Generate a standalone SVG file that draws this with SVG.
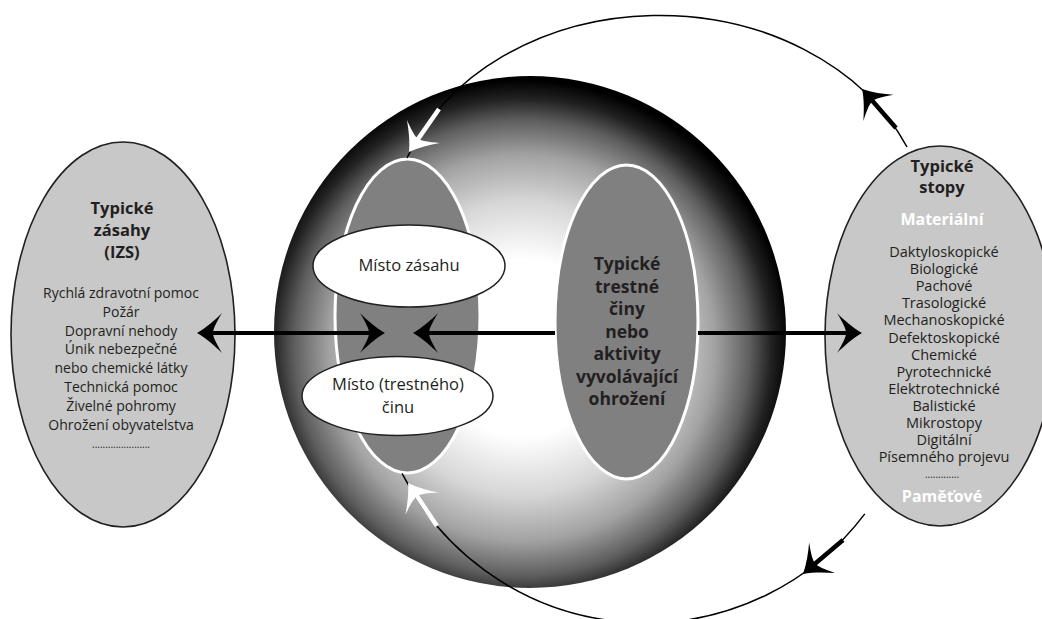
<svg xmlns="http://www.w3.org/2000/svg" width="1042" height="619" viewBox="0 0 1042 619">
<defs>
<radialGradient id="sph" gradientUnits="userSpaceOnUse" cx="522" cy="348" r="268">
<stop offset="0" stop-color="#ffffff"/>
<stop offset="0.33" stop-color="#ffffff"/>
<stop offset="0.55" stop-color="#d6d6d6"/>
<stop offset="0.72" stop-color="#a2a2a2"/>
<stop offset="0.85" stop-color="#5e5e5e"/>
<stop offset="0.93" stop-color="#222222"/>
<stop offset="1" stop-color="#000000"/>
</radialGradient>
<marker id="ahB" viewBox="-26 -21 36 42" refX="-8" refY="0" markerWidth="36" markerHeight="42" markerUnits="userSpaceOnUse" orient="auto-start-reverse">
<path d="M0,0 C-9,-5 -18,-13 -25,-20 C-19,-10 -16,-4 -16,0 C-16,4 -19,10 -25,20 C-18,13 -9,5 0,0 Z" fill="#000"/>
</marker>
<marker id="ahW" viewBox="-26 -21 36 42" refX="-8" refY="0" markerWidth="36" markerHeight="42" markerUnits="userSpaceOnUse" orient="auto-start-reverse">
<path d="M0,0 C-9,-5 -18,-13 -25,-20 C-19,-10 -16,-4 -16,0 C-16,4 -19,10 -25,20 C-18,13 -9,5 0,0 Z" fill="#fff"/>
</marker>
</defs>
<style>
text { font-family: "Open Sans", "Noto Sans", "Liberation Sans", sans-serif; fill: #231f20; text-anchor: middle; }
.t { font-size: 16.5px; font-weight: 700; }
.c { font-size: 17.5px; font-weight: 700; }
.l { font-size: 14px; }
.r { font-size: 14.5px; }
.w { font-size: 16px; font-weight: 700; fill: #ffffff; }
.m { font-size: 16.5px; }
.d { font-size: 10px; }
.side { fill: #c8c8c8; stroke: #231f20; stroke-width: 1.6; }
.inner { fill: #808080; stroke: #ffffff; stroke-width: 3; }
.place { fill: #ffffff; stroke: #231f20; stroke-width: 1.5; }
.thin { fill: none; stroke: #000; stroke-width: 1.5; }
.hz { fill: none; stroke: #000; stroke-width: 4; }
.tkB { fill: none; stroke: #000; stroke-width: 4.5; }
.tkW { fill: none; stroke: #fff; stroke-width: 4.5; }
</style>
<rect x="0" y="0" width="1042" height="619" fill="#ffffff"/>

<g id="sphere">
<circle cx="530" cy="332" r="256" fill="url(#sph)"/>
</g>

<g id="node-zasahy">
<ellipse class="side" cx="123" cy="334.5" rx="112" ry="192.5"/>
<text class="t" x="122" y="214">Typické</text>
<text class="t" x="122" y="236">zásahy</text>
<text class="t" x="122" y="258">(IZS)</text>
<text class="l" x="121" y="298">Rychlá zdravotní pomoc</text>
<text class="l" x="121" y="316.8">Požár</text>
<text class="l" x="121" y="335.6">Dopravní nehody</text>
<text class="l" x="121" y="354.4">Únik nebezpečné</text>
<text class="l" x="121" y="373.2">nebo chemické látky</text>
<text class="l" x="121" y="392">Technická pomoc</text>
<text class="l" x="121" y="410.8">Živelné pohromy</text>
<text class="l" x="121" y="429.6">Ohrožení obyvatelstva</text>
<text class="d" x="121" y="448">......................</text>
</g>

<g id="node-stopy">
<ellipse class="side" cx="940" cy="336" rx="115" ry="190"/>
<text class="t" x="942" y="172">Typické</text>
<text class="t" x="942" y="193">stopy</text>
<text class="w" x="942" y="225">Materiální</text>
<text class="r" x="944" y="257">Daktyloskopické</text>
<text class="r" x="944" y="274.1">Biologické</text>
<text class="r" x="944" y="291.2">Pachové</text>
<text class="r" x="944" y="308.3">Trasologické</text>
<text class="r" x="944" y="325.4">Mechanoskopické</text>
<text class="r" x="944" y="342.5">Defektoskopické</text>
<text class="r" x="944" y="359.6">Chemické</text>
<text class="r" x="944" y="376.7">Pyrotechnické</text>
<text class="r" x="944" y="393.8">Elektrotechnické</text>
<text class="r" x="944" y="410.9">Balistické</text>
<text class="r" x="944" y="428">Mikrostopy</text>
<text class="r" x="944" y="445.1">Digitální</text>
<text class="r" x="944" y="462.2">Písemného projevu</text>
<text class="d" x="942" y="478">.............</text>
<text class="w" x="942" y="502">Paměťové</text>
</g>

<g id="node-misto">
<ellipse class="inner" cx="407.5" cy="316" rx="72.5" ry="157"/>
</g>

<g id="node-misto-zasahu">
<ellipse class="place" cx="409" cy="266" rx="96" ry="41"/>
<text class="m" x="409" y="271">Místo zásahu</text>
</g>

<g id="node-misto-cinu">
<ellipse class="place" cx="397.5" cy="396" rx="95.5" ry="39.5"/>
<text class="m" x="398" y="390">Místo (trestného)</text>
<text class="m" x="398" y="413">činu</text>
</g>

<g id="node-ciny">
<ellipse class="inner" cx="626.5" cy="322" rx="71.5" ry="157"/>
<text class="c" x="627" y="270">Typické</text>
<text class="c" x="627" y="292.5">trestné</text>
<text class="c" x="627" y="315">činy</text>
<text class="c" x="627" y="337.5">nebo</text>
<text class="c" x="627" y="360">aktivity</text>
<text class="c" x="627" y="382.5">vyvolávající</text>
<text class="c" x="627" y="405">ohrožení</text>
</g>

<g id="connectors">
<path class="hz" d="M205,333 L377,333" marker-start="url(#ahB)" marker-end="url(#ahB)"/>
<path class="hz" d="M555,333 L421,333" marker-end="url(#ahB)"/>
<path class="hz" d="M698,333 L854,333" marker-end="url(#ahB)"/>
<path class="thin" d="M907,147 A270,220 0 0,0 407,158"/>
<path class="tkB" d="M896,128 L867.3,95" marker-end="url(#ahB)"/>
<path class="tkW" d="M439,109 L413.6,145.4" marker-end="url(#ahW)"/>
<path class="thin" d="M864.8,513.9 A274,274 0 0,1 402,473.4"/>
<path class="tkB" d="M843,540 L809.1,568.8" marker-end="url(#ahB)"/>
<path class="tkW" d="M437,526 L412.5,489.6" marker-end="url(#ahW)"/>
</g>
</svg>
